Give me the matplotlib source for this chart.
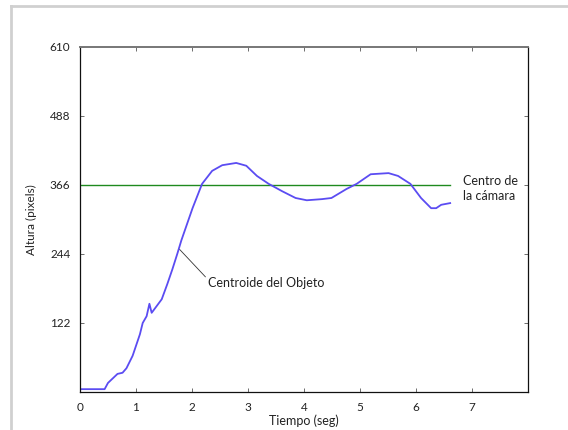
import matplotlib.pyplot as plt
from matplotlib.lines import Line2D

# centroid height over time
tiempo = [0.0, 0.44, 0.50, 0.67, 0.76, 0.83, 0.94, 1.07, 1.12, 1.19, 1.24, 1.28,
          1.46, 1.56, 1.65, 1.74, 1.81, 2.01, 2.18, 2.36, 2.54, 2.79, 2.97, 3.16,
          3.37, 3.61, 3.85, 4.05, 4.32, 4.49, 4.76, 4.94, 5.19, 5.51, 5.68, 5.90,
          6.09, 6.27, 6.36, 6.45, 6.61]
altura = [5, 5, 16, 32, 34, 42, 64, 102, 122, 134, 156, 140,
          164, 191, 217, 245, 268, 325, 368, 391, 401, 405, 400, 382,
          368, 355, 343, 339, 341, 343, 359, 368, 385, 387, 382, 368,
          343, 325, 325, 331, 334]

centro_x = [0.0, 6.61]
centro_y = [366, 366]

yticks = [122, 244, 366, 488, 610]
xticks = [0, 1, 2, 3, 4, 5, 6, 7]

plt.rcParams['font.family'] = ['Lato', 'DejaVu Sans']

fig = plt.figure(figsize=(5.68, 4.30), dpi=100)
ax = fig.add_axes([0.1408, 0.0884, 0.7888, 0.8023])

ax.plot(centro_x, centro_y, color='#1f8a1f', lw=1.0)
ax.plot(tiempo, altura, color='#5b4cf2', lw=1.3)

ax.set_xlim(0, 8)
ax.set_ylim(0, 610)
ax.set_xticks(xticks)
ax.set_yticks(yticks)
ax.tick_params(direction='in', length=3, width=0.6, labelsize=8.5,
               top=True, right=True, colors='#555555', labelcolor='#222222')
ax.tick_params(axis='x', pad=7)
ax.tick_params(axis='y', pad=7)
for s in ax.spines.values():
    s.set_linewidth(0.9)
    s.set_color('#111111')
ax.spines['top'].set_color('#777777')
ax.spines['top'].set_linewidth(1.4)

ax.set_xlabel('Tiempo (seg)', fontsize=9, labelpad=1, color='#222222')
ax.set_ylabel('Altura (pixels)', fontsize=8.5, labelpad=9, color='#222222')

ax.annotate('Centroide del Objeto', xy=(1.78, 252), xytext=(2.29, 193),
            fontsize=9, va='center', ha='left', color='#222222',
            arrowprops=dict(arrowstyle='-', color='#333333', lw=0.6,
                            shrinkA=0, shrinkB=0, relpos=(0, 0.75)))
ax.text(6.84, 359, 'Centro de\nla cámara', fontsize=9, va='center', ha='left',
        color='#222222', linespacing=1.3)

# screenshot frame
fig.add_artist(Line2D([11/568, 11/568], [0, 1 - 6/430], transform=fig.transFigure,
                      color='#d0d0d0', lw=2))
fig.add_artist(Line2D([11/568, 1], [1 - 6/430, 1 - 6/430], transform=fig.transFigure,
                      color='#d0d0d0', lw=2))

fig.savefig('out.png', dpi=100)
